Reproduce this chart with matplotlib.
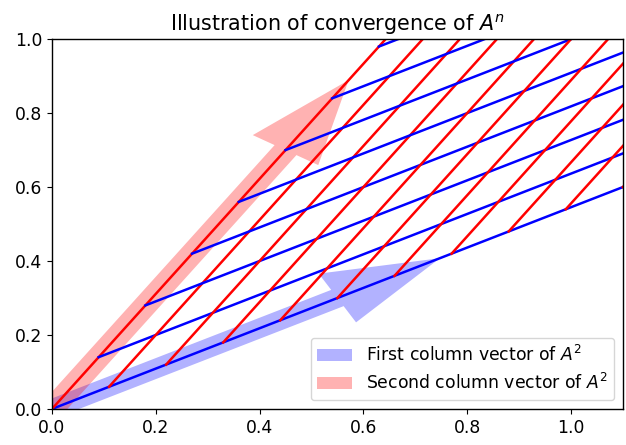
import matplotlib
matplotlib.use("Agg")
import matplotlib.pyplot as plt
import numpy as np

# Columns of A^2 for A = [[0.7, 0.3], [0.2, 0.8]]
col1 = [0.55, 0.30]
col2 = [0.45, 0.70]
grid_div = 5            # grid spacing = column / grid_div
grid_steps = list(range(0, 12))
line_extent = 20        # steps each grid line runs for

xticks = [0.0, 0.2, 0.4, 0.6, 0.8, 1.0]
yticks = [0.0, 0.2, 0.4, 0.6, 0.8, 1.0]

plt.rcParams["font.size"] = 12.4
plt.rcParams["axes.linewidth"] = 1.0

fig = plt.figure(figsize=(6.26, 4.45), dpi=100)
ax = fig.add_axes([0.083, 0.081, 0.912, 0.831])

u = np.array(col1) / grid_div
v = np.array(col2) / grid_div

for k in grid_steps:
    start_b = k * v
    end_b = start_b + line_extent * u
    ax.plot([start_b[0], end_b[0]], [start_b[1], end_b[1]], color="b", lw=1.8)
    start_r = k * u
    end_r = start_r + line_extent * v
    ax.plot([start_r[0], end_r[0]], [start_r[1], end_r[1]], color="r", lw=1.8)

ax.arrow(0, 0, col1[0], col1[1], width=0.05, color="b", alpha=0.3,
         lw=0, label="First column vector of $A^2$")
ax.arrow(0, 0, col2[0], col2[1], width=0.05, color="r", alpha=0.3,
         lw=0, label="Second column vector of $A^2$")

ax.set_xlim(0, 1.1)
ax.set_ylim(0, 1.0)
ax.set_xticks(xticks)
ax.set_yticks(yticks)
ax.set_title("Illustration of convergence of $A^n$")
ax.legend(loc="lower right")

fig.savefig("out.png", dpi=100)
